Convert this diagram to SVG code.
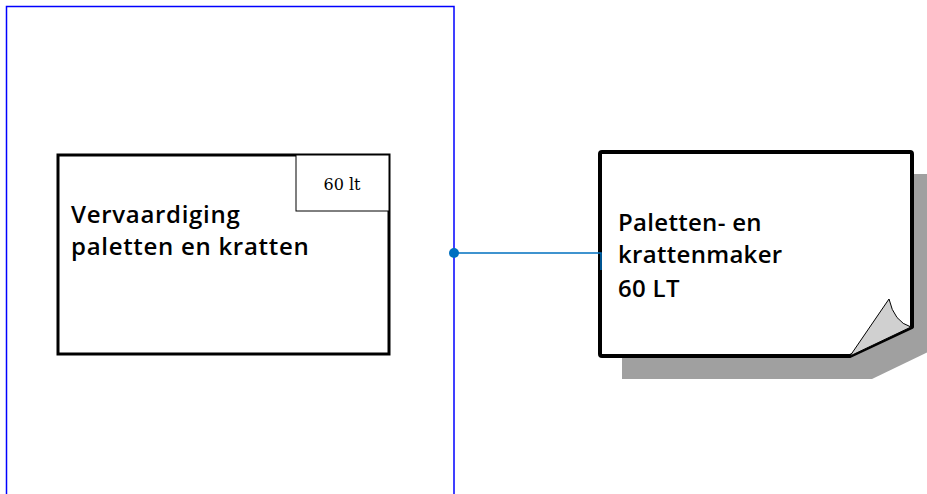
<svg xmlns="http://www.w3.org/2000/svg" width="927" height="494" viewBox="0 0 927 494">
<style>
.lbl{font-family:"Open Sans","Noto Sans",sans-serif;font-weight:600;font-size:24px;letter-spacing:0.3px;fill:#000}
.wide{letter-spacing:0.7px}
.small{font-family:"DejaVu Serif","Liberation Serif",serif;font-size:16px;fill:#000}
</style>
<rect width="927" height="494" fill="#fff"/>
<g id="container">
<rect x="6.5" y="6.5" width="447.5" height="500" fill="none" stroke="#0000ff" stroke-width="1.5"/>
</g>
<g id="node-vervaardiging">
<rect x="58" y="155" width="331" height="199" fill="#fff" stroke="#000" stroke-width="3"/>
<rect x="296" y="155" width="93" height="56" fill="#fff" stroke="#000" stroke-width="1"/>
<text class="small" x="342" y="190" text-anchor="middle">60 lt</text>
<text class="lbl wide" x="71" y="223">Vervaardiging</text>
<text class="lbl wide" x="71" y="255">paletten en kratten</text>
</g>
<g id="node-maker">
<path d="M622,174 H934 V349 L872,379 H622 Z" fill="#a0a0a0"/>
<path d="M602,152 H910 Q912,152 912,154 V327 L850,356 H602 Q600,356 600,354 V154 Q600,152 602,152 Z" fill="#fff" stroke="#000" stroke-width="4" stroke-linejoin="round"/>
<path d="M850,356 L889,299 Q894,322 911,327 Z" fill="#d0d0d0" stroke="#000" stroke-width="1"/>
<text class="lbl" x="618" y="231">Paletten- en</text>
<text class="lbl" x="618" y="263">krattenmaker</text>
<text class="lbl" x="618" y="297">60 LT</text>
</g>
<g id="connectors">
<path d="M454,253 H601 V270" fill="none" stroke="#0070c0" stroke-width="1.5"/>
<circle cx="454" cy="253" r="5" fill="#0070c0"/>
</g>
</svg>
